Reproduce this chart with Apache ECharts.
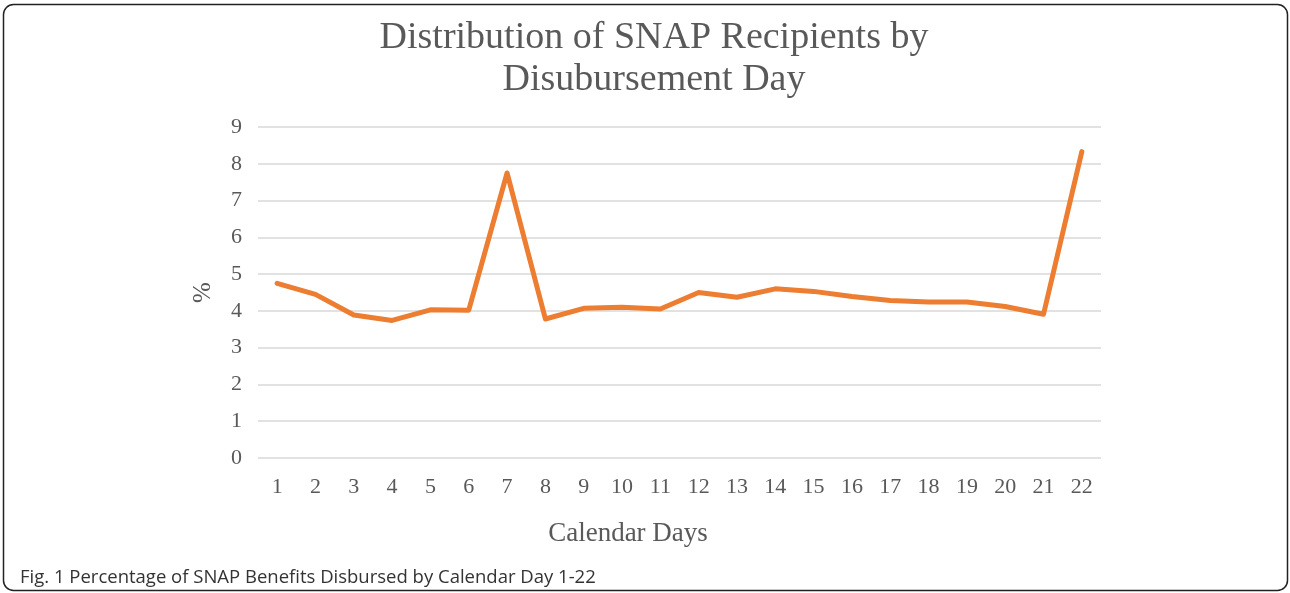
<!DOCTYPE html>
<html>
<head>
<meta charset="utf-8">
<script src="https://cdn.jsdelivr.net/npm/echarts@6/dist/echarts.min.js"></script>
<style>
html,body{margin:0;padding:0;background:#fff;}
#c{width:1290px;height:593px;}
</style>
</head>
<body>
<div id="c"></div>
<script>
const days = ['1','2','3','4','5','6','7','8','9','10','11','12','13','14','15','16','17','18','19','20','21','22'];
const percentValues = [4.75,4.45,3.89,3.74,4.03,4.02,7.75,3.78,4.07,4.10,4.05,4.50,4.37,4.60,4.53,4.39,4.28,4.24,4.24,4.12,3.91,8.33];
const yTicks = [0,1,2,3,4,5,6,7,8,9];
const titleText = 'Distribution of SNAP Recipients by\nDisubursement Day';
const xAxisTitle = 'Calendar Days';
const yAxisTitle = '%';
const captionText = 'Fig. 1 Percentage of SNAP Benefits Disbursed by Calendar Day 1-22';

const chart = echarts.init(document.getElementById('c'));
const serif = '"Liberation Serif", "DejaVu Serif", serif';
chart.setOption({
  animation: false,
  backgroundColor: '#fff',
  grid: {left: 258, right: 189, top: 127, bottom: 135},
  xAxis: {
    type: 'category',
    data: days,
    boundaryGap: true,
    axisLine: {show: false},
    axisTick: {show: false},
    axisLabel: {fontFamily: serif, fontSize: 22, color: '#595959', margin: 18, interval: 0}
  },
  yAxis: {
    type: 'value',
    min: yTicks[0],
    max: yTicks[yTicks.length - 1],
    interval: 1,
    axisLine: {show: false},
    axisTick: {show: false},
    axisLabel: {fontFamily: serif, fontSize: 22, color: '#595959', margin: 16},
    splitLine: {lineStyle: {color: '#d9d9d9', width: 1.5}},
    name: yAxisTitle,
    nameLocation: 'middle',
    nameRotate: 90,
    nameGap: 42,
    nameTextStyle: {fontFamily: serif, fontSize: 25, color: '#595959'}
  },
  series: [{
    type: 'line',
    data: percentValues,
    symbol: 'none',
    lineStyle: {color: '#ED7D31', width: 5, cap: 'round', join: 'round'},
    itemStyle: {color: '#ED7D31'}
  }],
  graphic: [
    {type: 'rect', shape: {x: 3.5, y: 4.5, width: 1284, height: 586, r: 10}, style: {fill: 'none', stroke: '#222', lineWidth: 1.5}, z: 100},
    {type: 'text', x: 654, y: 17, style: {text: titleText, textAlign: 'center', fontFamily: serif, fontSize: 38, lineHeight: 42, fill: '#595959'}},
    {type: 'text', x: 628, y: 520, style: {text: xAxisTitle, textAlign: 'center', fontFamily: serif, fontSize: 27, fill: '#595959'}},
    {type: 'text', x: 20, y: 568, style: {text: captionText, fontFamily: '"Open Sans", "Noto Sans", sans-serif', fontSize: 18.5, fill: '#333'}}
  ]
});
</script>
</body>
</html>
